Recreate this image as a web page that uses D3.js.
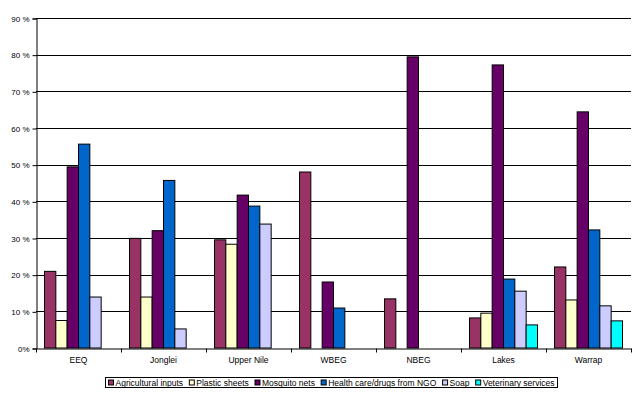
<!DOCTYPE html>
<html>
<head>
<meta charset="utf-8">
<script src="https://cdn.jsdelivr.net/npm/d3@7"></script>
<style>
body { margin: 0; background: #fff; }
text { font-family: Arial, "Liberation Sans", sans-serif; fill: #000; }
</style>
</head>
<body>
<div id="svg-container"></div>
<script>
var regions = ["EEQ", "Jonglei", "Upper Nile", "WBEG", "NBEG", "Lakes", "Warrap"];
var seriesNames = ["Agricultural inputs", "Plastic sheets", "Mosquito nets", "Health care/drugs from NGO", "Soap", "Veterinary services"];
var seriesColors = ["#993366", "#FFFFCC", "#660066", "#0066CC", "#CCCCFF", "#00FFFF"];
var agri = [20.9, 29.9, 29.5, 48.0, 13.4, 8.2, 22.1];
var plastic = [7.5, 13.9, 28.3, 0, 0, 9.5, 13.1];
var mosquito = [49.4, 32.0, 41.7, 18.0, 79.4, 77.2, 64.4];
var health = [55.6, 45.7, 38.7, 10.9, 0, 18.8, 32.2];
var soap = [13.9, 5.2, 33.8, 0, 0, 15.5, 11.5];
var vet = [0, 0, 0, 0, 0, 6.3, 7.4];
var yTicks = [0, 10, 20, 30, 40, 50, 60, 70, 80, 90];

var allSeries = [agri, plastic, mosquito, health, soap, vet];
var rows = [];
for (var i = 0; i < regions.length; ++i) {
    for (var j = 0; j < allSeries.length; ++j) {
        rows.push({"region": regions[i], "series": j, "value": allSeries[j][i]});
    }
}

var plotL = 36, plotR = 631, plotT = 18, plotB = 348;

var svg = d3.select("#svg-container").append("svg")
    .attr("width", 642)
    .attr("height", 395);

var x = d3.scaleBand()
    .domain(regions)
    .range([plotL, plotR]);
var xInner = d3.scaleBand()
    .domain(d3.range(seriesNames.length))
    .range([0, x.bandwidth()])
    .paddingOuter(0.75)
    .paddingInner(0);
var y = d3.scaleLinear()
    .domain([0, 90])
    .range([plotB, plotT]);

// gridlines
svg.selectAll(".grid")
    .data(yTicks.slice(1))
    .enter().append("line")
    .attr("x1", plotL)
    .attr("x2", plotR)
    .attr("y1", function(d) { return Math.round(y(d)) + 0.5; })
    .attr("y2", function(d) { return Math.round(y(d)) + 0.5; })
    .attr("stroke", "#000")
    .attr("stroke-width", 1);

// bars
svg.selectAll(".bar")
    .data(rows.filter(function(d) { return d.value > 0; }))
    .enter().append("rect")
    .attr("class", "bar")
    .attr("x", function(d) { return x(d.region) + xInner(d.series); })
    .attr("width", xInner.bandwidth())
    .attr("y", function(d) { return y(d.value); })
    .attr("height", function(d) { return plotB - y(d.value); })
    .attr("fill", function(d) { return seriesColors[d.series]; })
    .attr("stroke", "#000")
    .attr("stroke-width", 1);

// y axis
var yAxis = d3.axisLeft(y)
    .tickValues(yTicks)
    .tickSize(4)
    .tickPadding(3)
    .tickFormat(function(d) { return d === 0 ? "0%" : d + " %"; });
var gy = svg.append("g")
    .attr("transform", "translate(" + (plotL + 0.5) + ",0.5)")
    .call(yAxis);
gy.selectAll("text").style("font-size", "8px").attr("font-family", null);

// x axis
var xAxis = d3.axisBottom(x)
    .tickSize(0)
    .tickPadding(8);
var gx = svg.append("g")
    .attr("transform", "translate(0," + (plotB + 0.5) + ")")
    .call(xAxis);
gx.selectAll("text").style("font-size", "8.5px").attr("font-family", null);
gx.selectAll(".bound")
    .data(d3.range(regions.length + 1))
    .enter().append("line")
    .attr("x1", function(d) { return Math.round(plotL + d * x.step()) + 0.5; })
    .attr("x2", function(d) { return Math.round(plotL + d * x.step()) + 0.5; })
    .attr("y1", 0)
    .attr("y2", 4)
    .attr("stroke", "#000");
svg.selectAll(".domain").attr("stroke", "#000");

// legend, box from x=105 to 557
var legX = 105, legW = 452;
svg.append("rect")
    .attr("x", legX + 0.5)
    .attr("y", 377.5)
    .attr("width", legW)
    .attr("height", 10)
    .attr("fill", "#fff")
    .attr("stroke", "#000");
var legend = svg.append("g");
var items = legend.selectAll(".item")
    .data(seriesNames)
    .enter().append("g")
    .attr("class", "item");
items.append("rect")
    .attr("width", 5)
    .attr("height", 5)
    .attr("y", -5.5)
    .attr("fill", function(d, i) { return seriesColors[i]; })
    .attr("stroke", "#000")
    .attr("stroke-width", 1);
items.append("text")
    .attr("x", 7)
    .style("font-size", "8.5px")
    .text(function(d) { return d; });
var widths = [];
items.each(function() {
    widths.push(7 + d3.select(this).select("text").node().getComputedTextLength());
});
var gap = (legW - 6 - d3.sum(widths)) / (widths.length - 1);
var lx = 0;
items.attr("transform", function(d, i) {
    var t = "translate(" + lx + ",0)";
    lx += widths[i] + gap;
    return t;
});
legend.attr("transform", "translate(" + (legX + 3.5) + ",385.5)");
</script>
</body>
</html>
